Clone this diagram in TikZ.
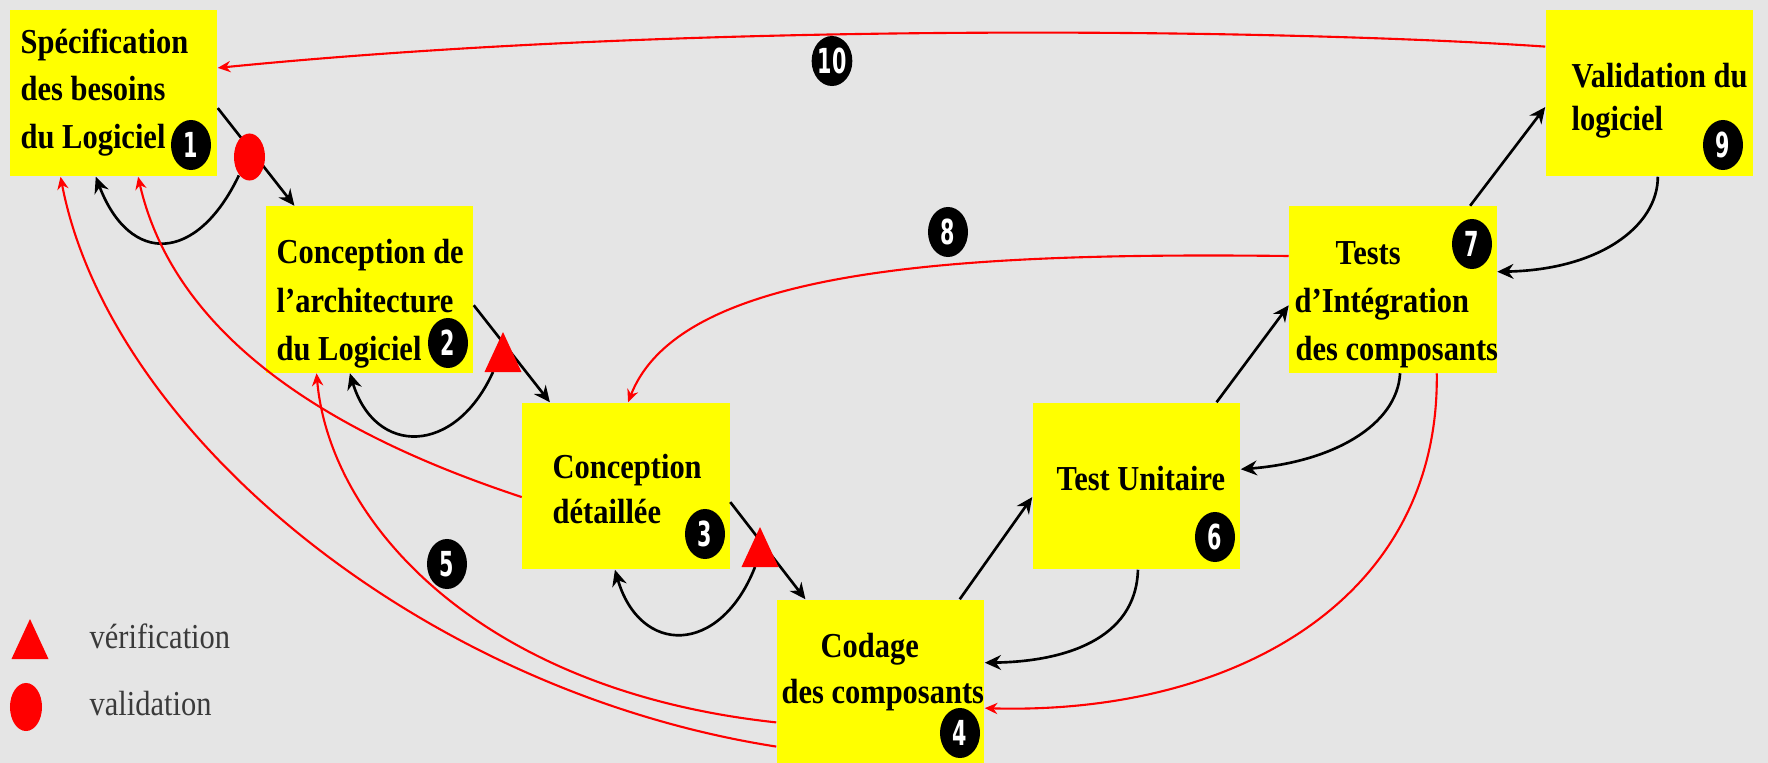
\documentclass[tikz,border=0pt]{standalone}
\usepackage{fontspec}
\setmainfont{Liberation Serif}
\newfontfamily\labelfont[FakeStretch=0.87]{Liberation Serif}
\newfontface\badgefont[FakeStretch=0.6]{DejaVu Sans Bold}
\usetikzlibrary{arrows.meta,shapes.geometric,calc}
\definecolor{bggray}{RGB}{229,229,229}
\definecolor{boxyellow}{RGB}{255,255,0}
\definecolor{legendgray}{RGB}{58,58,58}

\tikzset{
  stage/.style={fill=boxyellow, inner sep=0pt, minimum width=2.07cm, minimum height=1.66cm},
  txt/.style={anchor=base west, inner sep=0pt, font=\labelfont\bfseries\fontsize{9.96pt}{12pt}\selectfont},
  legtxt/.style={anchor=base west, inner sep=0pt, text=legendgray, font=\labelfont\fontsize{9.96pt}{12pt}\selectfont},
  badge/.style={ellipse, fill=black, text=white, inner sep=0pt, minimum width=0.40cm, minimum height=0.50cm, font=\badgefont\fontsize{9.8pt}{10pt}\selectfont},
  valmark/.style={ellipse, fill=red, inner sep=0pt, minimum width=0.31cm, minimum height=0.47cm},
  flow/.style={draw=black, line width=0.75pt, -{Stealth[length=4.6pt,width=4.2pt]}},
  back/.style={draw=red, line width=0.6pt, -{Stealth[length=3.6pt,width=3.2pt]}},
  verif/.pic={\fill[red] (0,-20) -- (18.5,20) -- (-18.5,20) -- cycle;}
}

\begin{document}
\begin{tikzpicture}[x=0.01cm, y=-0.01cm]
\useasboundingbox (0,0) rectangle (1768,763);
\fill[bggray] (0,0) rectangle (1768,763);
\clip (0,0) rectangle (1768,763);

% stages of the V cycle
\node[stage] (b1) at (113.5,93) {};
\node[stage] (b2) at (369.5,289.5) {};
\node[stage] (b3) at (626,486) {};
\node[stage, minimum height=1.70cm] (b4) at (880.5,685) {};
\node[stage] (b6) at (1136.5,486) {};
\node[stage] (b7) at (1393,289.5) {};
\node[stage] (b9) at (1649.5,93) {};

% stage titles
\node[txt] (t1a) at (20,53) {Spécification};
\node[txt] (t1b) at (20,100) {des besoins};
\node[txt] (t1c) at (20,148) {du Logiciel};
\node[txt] (t2a) at (276,263) {Conception de};
\node[txt] (t2b) at (276,312) {l’architecture};
\node[txt] (t2c) at (276,360) {du Logiciel};
\node[txt] (t3a) at (552,478) {Conception};
\node[txt] (t3b) at (552,523) {détaillée};
\node[txt] (t4a) at (820,657) {Codage};
\node[txt] (t4b) at (781,703) {des composants};
\node[txt] (t6a) at (1056,490) {Test Unitaire};
\node[txt] (t7a) at (1335,264) {Tests};
\node[txt] (t7b) at (1294,312) {d’Intégration};
\node[txt] (t7c) at (1295,360) {des composants};
\node[txt] (t9a) at (1571,87) {Validation du};
\node[txt] (t9b) at (1571,130) {logiciel};

% verification / validation markers
\coordinate (v2) at (503,352);
\coordinate (v3) at (760,547);
\coordinate (vl) at (30,639);

% descending and ascending flow
\draw[flow] ($(b1.north east)!0.59!(b1.south east)$) -- ($(b2.north west)!0.14!(b2.north east)$);
\draw[flow] ($(b2.north east)!0.594!(b2.south east)$) -- ($(b3.north west)!0.135!(b3.north east)$);
\draw[flow] ($(b3.north east)!0.596!(b3.south east)$) -- ($(b4.north west)!0.14!(b4.north east)$);
\draw[flow] ($(b4.north west)!0.88!(b4.north east)$) -- ($(b6.north west)!0.566!(b6.south west)$);
\draw[flow] ($(b6.north west)!0.884!(b6.north east)$) -- ($(b7.north west)!0.594!(b7.south west)$);
\draw[flow] ($(b7.north west)!0.87!(b7.north east)$) -- ($(b9.north west)!0.584!(b9.south west)$);

% feedback of the checks on the left branch
\node[valmark] (val) at (249.5,157) {};
\draw[flow] (val.240) .. controls +(-42,88) and +(34,89) .. ($(b1.south west)!0.415!(b1.south east)$);
\draw[flow] ($(v2)+(-10,20)$) .. controls +(-38,84) and +(25,83) .. ($(b2.south west)!0.406!(b2.south east)$);
\draw[flow] ($(v3)+(-5,20)$) .. controls +(-35,89) and +(25,86) .. ($(b3.south west)!0.447!(b3.south east)$);

% feedback of the tests on the right branch
\draw[flow] ($(b9.south west)!0.54!(b9.south east)$) .. controls +(0,49) and +(103,-2) .. ($(b7.north east)!0.394!(b7.south east)$);
\draw[flow] ($(b7.south west)!0.534!(b7.south east)$) .. controls +(-3,53) and +(90,-7) .. ($(b6.north east)!0.40!(b6.south east)$);
\draw[flow] ($(b6.south west)!0.507!(b6.south east)$) .. controls +(-2,71) and +(77,-1) .. ($(b4.north east)!0.37!(b4.south east)$);

% red return paths
\draw[back] ($(b9.north west)!0.223!(b9.south west)$) .. controls +(-246,-17) and +(483,-48) .. ($(b1.north east)!0.35!(b1.south east)$);
\draw[back] ($(b7.north west)!0.30!(b7.south west)$) .. controls +(-339,-4) and +(52,-133) .. ($(b3.north west)!0.51!(b3.north east)$);
\draw[back] ($(b7.south west)!0.71!(b7.south east)$) .. controls +(3,228) and +(247,7) .. ($(b4.north east)!0.635!(b4.south east)$);
\draw[back] ($(b4.north west)!0.859!(b4.south west)$) .. controls +(-358,-56) and +(49,254) .. ($(b1.south west)!0.246!(b1.south east)$);
\draw[back] ($(b4.north west)!0.718!(b4.south west)$) .. controls +(-298,-32) and +(13,148) .. ($(b2.south west)!0.246!(b2.south east)$);
\draw[back] ($(b3.north west)!0.566!(b3.south west)$) .. controls +(-142,-47) and +(42,184) .. ($(b1.south west)!0.618!(b1.south east)$);

% markers on top of the flow lines
\pic at (v2) {verif};
\pic at (v3) {verif};

% step numbers
\node[badge] (n1) at (191,145) {1};
\node[badge] (n2) at (448,343) {2};
\node[badge] (n3) at (705,534) {3};
\node[badge] (n4) at (960,733) {4};
\node[badge] (n5) at (447,564) {5};
\node[badge] (n6) at (1215,537) {6};
\node[badge] (n7) at (1472,244) {7};
\node[badge] (n8) at (948,232) {8};
\node[badge] (n9) at (1723,145) {9};
\node[badge] (n10) at (832,61) {10};

% legend
\pic at (vl) {verif};
\node[valmark, minimum width=0.32cm, minimum height=0.48cm] (lval) at (26,707) {};
\node[legtxt] (l1) at (89,648) {vérification};
\node[legtxt] (l2) at (89,715) {validation};
\end{tikzpicture}
\end{document}
